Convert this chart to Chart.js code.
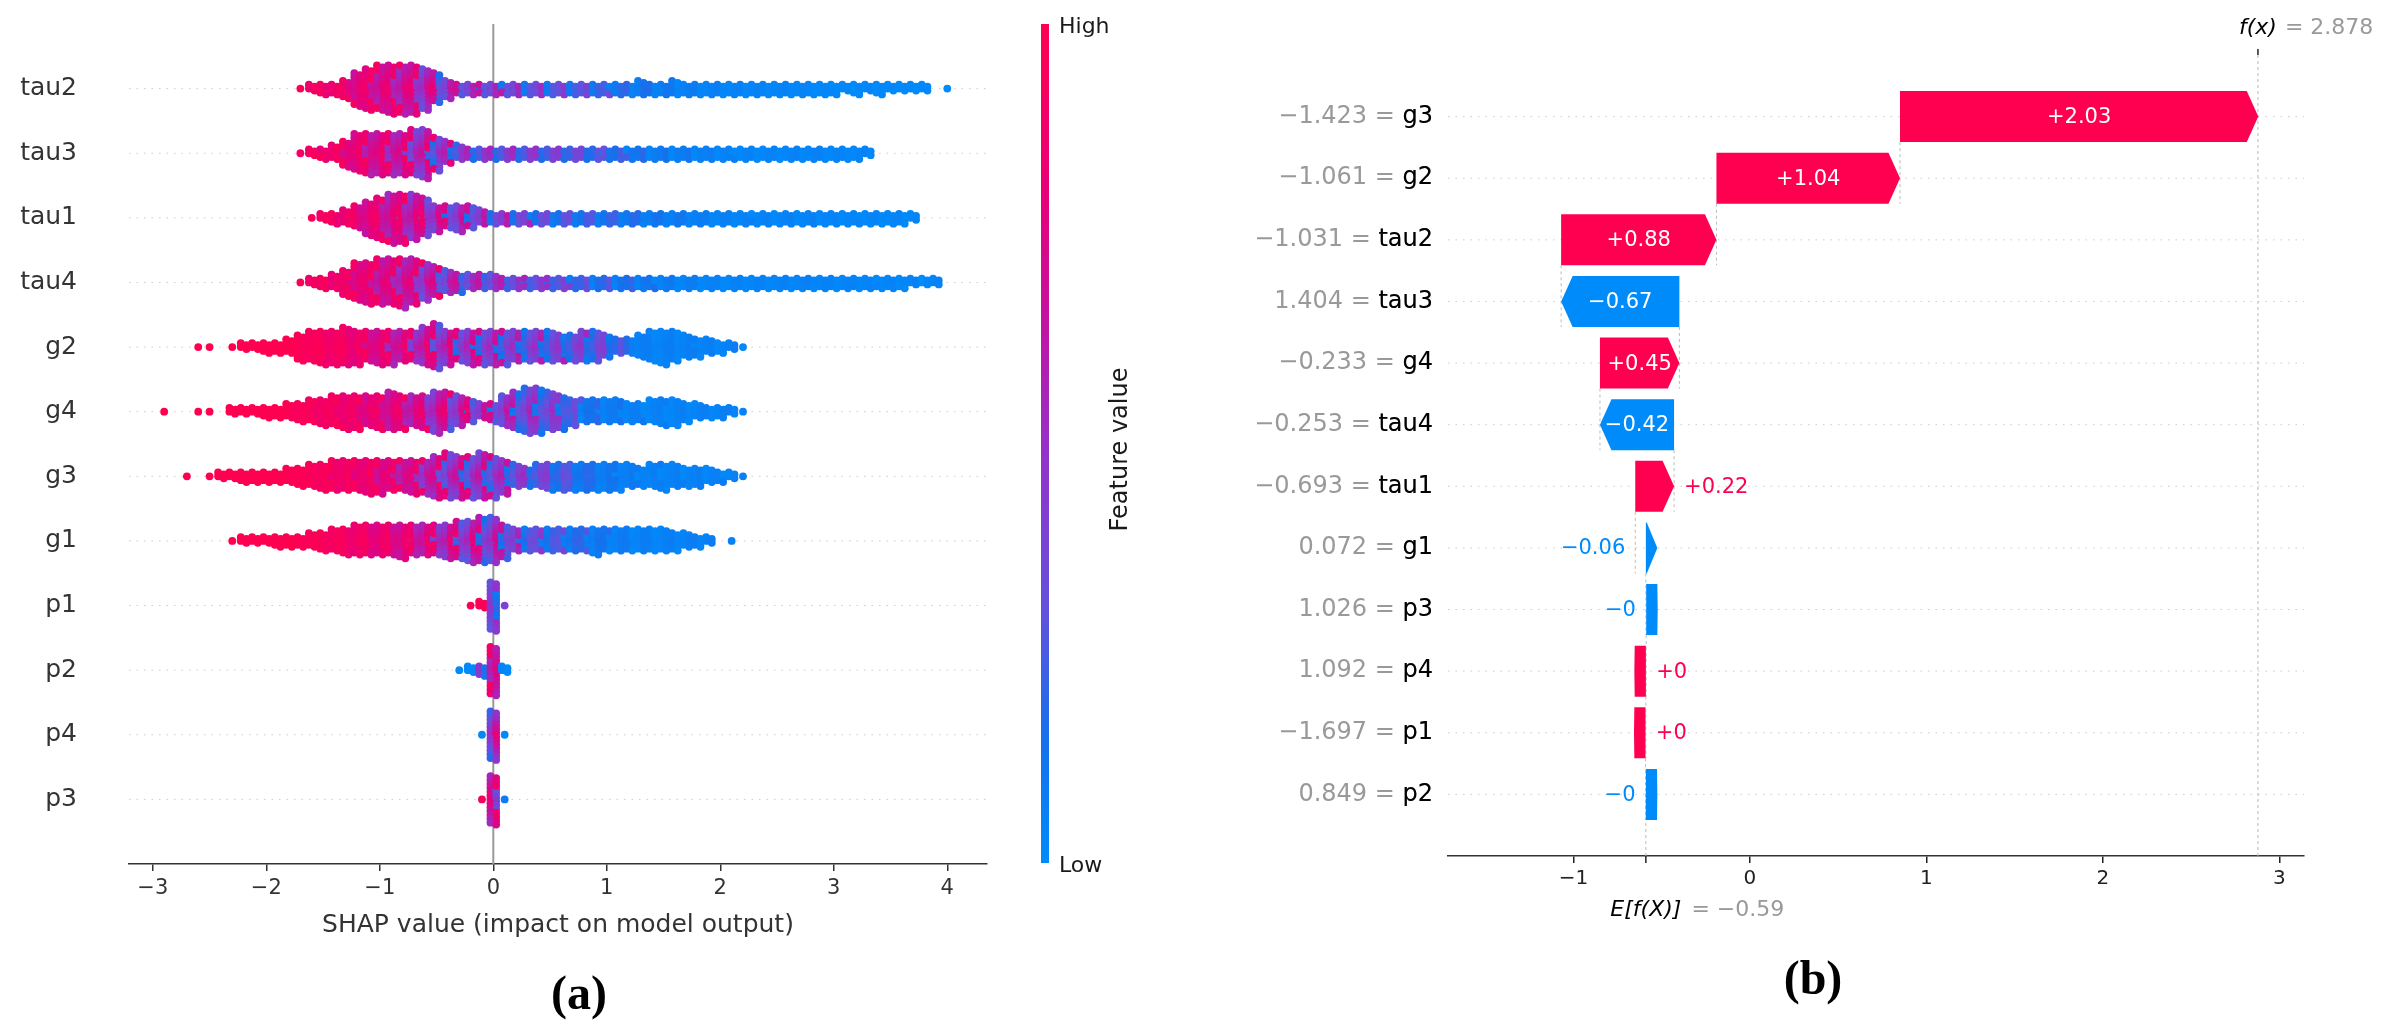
<!DOCTYPE html>
<html>
<head>
<meta charset="utf-8">
<script src="https://cdn.jsdelivr.net/npm/chart.js@4.4.1/dist/chart.umd.min.js"></script>
<style>
  html, body { margin: 0; padding: 0; background: #fff; }
  #page { position: relative; width: 2387px; height: 1036px; overflow: hidden; background: #fff; }
  canvas { position: absolute; top: 0; }
  #beeswarm { left: 0; }
  #waterfall { left: 1250px; }
</style>
</head>
<body>
<div id="page">
  <canvas id="beeswarm" width="1250" height="1036"></canvas>
  <canvas id="waterfall" width="1137" height="1036"></canvas>
</div>
<script>
const FONT = "'DejaVu Sans', sans-serif";
const SERIF = "'Liberation Serif', serif";
const RED = '#ff0051';
const BLUE = '#008bfb';

// ---------- (a) beeswarm: stack height per 0.1 SHAP bin and mean feature value (0 = low, 1 = high) ----------
const shapBins = [
  -3.0, -2.9, -2.8, -2.7, -2.6, -2.5, -2.4, -2.3, -2.2, -2.1,
  -2.0, -1.9, -1.8, -1.7, -1.6, -1.5, -1.4, -1.3, -1.2, -1.1,
  -1.0, -0.9, -0.8, -0.7, -0.6, -0.5, -0.4, -0.3, -0.2, -0.1,
  0.0, 0.1, 0.2, 0.3, 0.4, 0.5, 0.6, 0.7, 0.8, 0.9,
  1.0, 1.1, 1.2, 1.3, 1.4, 1.5, 1.6, 1.7, 1.8, 1.9,
  2.0, 2.1, 2.2, 2.3, 2.4, 2.5, 2.6, 2.7, 2.8, 2.9,
  3.0, 3.1, 3.2, 3.3, 3.4, 3.5, 3.6, 3.7, 3.8, 3.9,
  4.0
];
const beeswarmFeatures = ['tau2', 'tau3', 'tau1', 'tau4', 'g2', 'g4', 'g3', 'g1', 'p1', 'p2', 'p4', 'p3'];
const beeswarmTicks = [-3, -2, -1, 0, 1, 2, 3, 4];

const tau2Counts = [
  0,0,0,0,0,0,0,0,0,0,  0,0,0,1,2,3,3,5,9,11,  12,13,13,13,11,8,5,3,3,3,
  3,3,3,3,3,3,3,3,3,3,  3,3,3,4,3,3,4,3,3,3,  3,3,3,3,3,3,3,3,3,3,
  3,2,3,2,3,2,2,2,2,0,  1];
const tau2Colors = [
  0,0,0,0,0,0,0,0,0,0,  0,0,0,0.95,0.9,0.9,0.88,0.85,0.8,0.78,
  0.75,0.72,0.7,0.65,0.6,0.52,0.46,0.42,0.4,0.39,
  0.38,0.37,0.36,0.34,0.32,0.3,0.28,0.26,0.24,0.22,
  0.2,0.18,0.16,0.14,0.12,0.1,0.08,0.07,0.06,0.05,
  0.05,0.04,0.04,0.04,0.03,0.03,0.03,0.03,0.02,0.02,
  0.02,0.02,0.02,0.02,0.02,0.02,0.02,0.02,0.02,0,  0.02];

const tau3Counts = [
  0,0,0,0,0,0,0,0,0,0,  0,0,0,1,2,3,4,7,10,11,  11,11,11,12,13,9,6,4,3,3,
  3,3,3,3,3,3,3,3,3,3,  3,3,3,3,3,3,3,3,3,3,  3,3,3,3,3,3,3,3,3,3,
  3,3,3,2,0,0,0,0,0,0,  0];
const tau3Colors = [
  0,0,0,0,0,0,0,0,0,0,  0,0,0,0.95,0.9,0.88,0.85,0.82,0.78,0.75,
  0.72,0.7,0.66,0.6,0.55,0.5,0.46,0.43,0.41,0.4,
  0.38,0.37,0.36,0.34,0.32,0.3,0.28,0.26,0.23,0.2,
  0.18,0.16,0.14,0.12,0.1,0.09,0.08,0.07,0.06,0.05,
  0.04,0.04,0.04,0.04,0.04,0.04,0.04,0.04,0.04,0.04,
  0.03,0.03,0.03,0.03,0,0,0,0,0,0,  0];

const tau1Counts = [
  0,0,0,0,0,0,0,0,0,0,  0,0,0,0,1,2,3,4,6,9,  11,13,13,12,10,7,6,7,6,4,
  3,3,3,3,3,3,3,3,3,3,  3,3,3,3,3,3,3,3,3,3,  3,3,3,3,3,3,3,3,3,3,
  3,3,3,3,3,3,3,2,0,0,  0];
const tau1Colors = [
  0,0,0,0,0,0,0,0,0,0,  0,0,0,0,0.95,0.9,0.88,0.85,0.82,0.78,
  0.75,0.72,0.7,0.66,0.6,0.52,0.46,0.43,0.41,0.4,
  0.38,0.37,0.35,0.33,0.31,0.29,0.27,0.25,0.22,0.2,
  0.18,0.16,0.14,0.12,0.1,0.09,0.08,0.07,0.06,0.05,
  0.04,0.04,0.04,0.04,0.04,0.04,0.04,0.04,0.04,0.04,
  0.03,0.03,0.03,0.03,0.03,0.03,0.03,0.03,0,0,  0];

const tau4Counts = [
  0,0,0,0,0,0,0,0,0,0,  0,0,0,1,2,3,4,7,10,11,  12,12,13,12,10,8,6,5,4,4,
  4,3,3,3,3,3,3,3,3,3,  3,3,3,3,3,3,3,3,3,3,  3,3,3,3,3,3,3,3,3,3,
  3,3,3,3,3,3,3,2,2,2,  0];
const tau4Colors = [
  0,0,0,0,0,0,0,0,0,0,  0,0,0,0.95,0.92,0.9,0.88,0.85,0.82,0.78,
  0.75,0.72,0.7,0.66,0.6,0.55,0.5,0.46,0.43,0.41,
  0.39,0.37,0.35,0.33,0.31,0.29,0.27,0.24,0.21,0.19,
  0.17,0.15,0.13,0.11,0.1,0.09,0.08,0.07,0.06,0.05,
  0.04,0.04,0.04,0.04,0.04,0.04,0.04,0.04,0.04,0.04,
  0.03,0.03,0.03,0.03,0.03,0.03,0.03,0.03,0.03,0.03,  0];

const g2Counts = [
  0,0,0,0,1,1,0,1,2,2,  3,3,4,7,8,9,9,10,9,8,  9,9,8,8,10,12,9,8,9,9,
  9,9,8,8,8,8,7,7,8,8,  6,4,4,6,8,9,8,6,5,4,  3,2,1,0,0,0,0,0,0,0,
  0,0,0,0,0,0,0,0,0,0,  0];
const g2Colors = [
  0,0,0,0,1,1,0,1,1,1,  1,1,1,0.97,0.95,0.93,0.9,0.88,0.84,0.8,
  0.76,0.72,0.68,0.64,0.6,0.56,0.52,0.48,0.46,0.44,
  0.42,0.4,0.38,0.37,0.36,0.35,0.34,0.33,0.32,0.3,
  0.28,0.22,0.12,0.06,0.05,0.05,0.05,0.05,0.05,0.05,
  0.05,0.05,0.05,0,0,0,0,0,0,0,  0,0,0,0,0,0,0,0,0,0,  0];

const g4Counts = [
  0,1,0,0,1,1,0,2,2,2,  3,3,4,5,6,7,8,9,9,8,  9,10,9,8,9,11,10,8,6,4,
  5,8,10,12,12,10,9,7,6,6,  6,6,5,5,6,7,7,5,4,3,  3,2,1,0,0,0,0,0,0,0,
  0,0,0,0,0,0,0,0,0,0,  0];
const g4Colors = [
  0,1,0,0,1,1,0,1,1,1,  1,1,0.98,0.96,0.94,0.92,0.9,0.88,0.85,0.82,
  0.8,0.77,0.74,0.7,0.66,0.62,0.57,0.53,0.5,0.47,
  0.44,0.41,0.38,0.36,0.34,0.32,0.28,0.22,0.15,0.12,
  0.1,0.08,0.07,0.06,0.05,0.05,0.05,0.05,0.05,0.05,
  0.05,0.05,0.05,0,0,0,0,0,0,0,  0,0,0,0,0,0,0,0,0,0,  0];

const g3Counts = [
  0,0,0,1,0,1,2,2,3,3,  3,3,4,5,6,7,8,8,8,9,  9,8,8,9,9,11,12,11,11,12,
  11,9,6,5,6,7,7,7,7,7,  7,7,6,5,6,7,6,5,5,4,  3,2,1,0,0,0,0,0,0,0,
  0,0,0,0,0,0,0,0,0,0,  0];
const g3Colors = [
  0,0,0,1,0,1,1,1,1,1,  1,1,0.98,0.97,0.95,0.93,0.9,0.88,0.86,0.83,
  0.8,0.77,0.74,0.7,0.65,0.6,0.55,0.5,0.47,0.45,
  0.43,0.4,0.37,0.34,0.31,0.28,0.24,0.18,0.14,0.11,
  0.09,0.08,0.07,0.06,0.05,0.05,0.05,0.05,0.05,0.05,
  0.05,0.05,0.05,0,0,0,0,0,0,0,  0,0,0,0,0,0,0,0,0,0,  0];

const g1Counts = [
  0,0,0,0,0,0,0,1,2,2,  2,3,3,3,4,5,6,7,8,8,  8,8,9,8,8,8,9,10,11,12,
  12,9,6,6,6,6,6,6,6,7,  6,6,6,6,6,6,5,4,3,2,  0,1,0,0,0,0,0,0,0,0,
  0,0,0,0,0,0,0,0,0,0,  0];
const g1Colors = [
  0,0,0,0,0,0,0,1,1,1,  1,1,1,0.98,0.97,0.95,0.93,0.9,0.88,0.85,
  0.82,0.8,0.76,0.72,0.68,0.63,0.58,0.54,0.5,0.47,
  0.44,0.4,0.36,0.32,0.28,0.25,0.22,0.18,0.15,0.12,
  0.1,0.08,0.07,0.06,0.05,0.05,0.05,0.05,0.05,0.05,
  0,0.05,0,0,0,0,0,0,0,0,  0,0,0,0,0,0,0,0,0,0,  0];

const p1Counts = [
  0,0,0,0,0,0,0,0,0,0,  0,0,0,0,0,0,0,0,0,0,  0,0,0,0,0,0,0,0,1,2,
  13,1,0,0,0,0,0,0,0,0,  0,0,0,0,0,0,0,0,0,0,  0,0,0,0,0,0,0,0,0,0,
  0,0,0,0,0,0,0,0,0,0,  0];
const p1Colors = [
  0,0,0,0,0,0,0,0,0,0,  0,0,0,0,0,0,0,0,0,0,  0,0,0,0,0,0,0,0,1,0.97,
  0.3,0.4,0,0,0,0,0,0,0,0,  0,0,0,0,0,0,0,0,0,0,  0,0,0,0,0,0,0,0,0,0,
  0,0,0,0,0,0,0,0,0,0,  0];

const p2Counts = [
  0,0,0,0,0,0,0,0,0,0,  0,0,0,0,0,0,0,0,0,0,  0,0,0,0,0,0,0,1,2,3,
  13,2,0,0,0,0,0,0,0,0,  0,0,0,0,0,0,0,0,0,0,  0,0,0,0,0,0,0,0,0,0,
  0,0,0,0,0,0,0,0,0,0,  0];
const p2Colors = [
  0,0,0,0,0,0,0,0,0,0,  0,0,0,0,0,0,0,0,0,0,  0,0,0,0,0,0,0,0,0.02,0.35,
  0.72,0.03,0,0,0,0,0,0,0,0,  0,0,0,0,0,0,0,0,0,0,  0,0,0,0,0,0,0,0,0,0,
  0,0,0,0,0,0,0,0,0,0,  0];

const p4Counts = [
  0,0,0,0,0,0,0,0,0,0,  0,0,0,0,0,0,0,0,0,0,  0,0,0,0,0,0,0,0,0,1,
  13,1,0,0,0,0,0,0,0,0,  0,0,0,0,0,0,0,0,0,0,  0,0,0,0,0,0,0,0,0,0,
  0,0,0,0,0,0,0,0,0,0,  0];
const p4Colors = [
  0,0,0,0,0,0,0,0,0,0,  0,0,0,0,0,0,0,0,0,0,  0,0,0,0,0,0,0,0,0,0.05,
  0.5,0.05,0,0,0,0,0,0,0,0,  0,0,0,0,0,0,0,0,0,0,  0,0,0,0,0,0,0,0,0,0,
  0,0,0,0,0,0,0,0,0,0,  0];

const p3Counts = [
  0,0,0,0,0,0,0,0,0,0,  0,0,0,0,0,0,0,0,0,0,  0,0,0,0,0,0,0,0,0,1,
  13,1,0,0,0,0,0,0,0,0,  0,0,0,0,0,0,0,0,0,0,  0,0,0,0,0,0,0,0,0,0,
  0,0,0,0,0,0,0,0,0,0,  0];
const p3Colors = [
  0,0,0,0,0,0,0,0,0,0,  0,0,0,0,0,0,0,0,0,0,  0,0,0,0,0,0,0,0,0,0.95,
  0.6,0.1,0,0,0,0,0,0,0,0,  0,0,0,0,0,0,0,0,0,0,  0,0,0,0,0,0,0,0,0,0,
  0,0,0,0,0,0,0,0,0,0,  0];

const beeswarmCounts = [tau2Counts, tau3Counts, tau1Counts, tau4Counts, g2Counts, g4Counts,
  g3Counts, g1Counts, p1Counts, p2Counts, p4Counts, p3Counts];
const beeswarmColors = [tau2Colors, tau3Colors, tau1Colors, tau4Colors, g2Colors, g4Colors,
  g3Colors, g1Colors, p1Colors, p2Colors, p4Colors, p3Colors];

// ---------- (b) waterfall ----------
const waterfallFeatures = ['g3', 'g2', 'tau2', 'tau3', 'g4', 'tau4', 'tau1', 'g1', 'p3', 'p4', 'p1', 'p2'];
const waterfallFeatureValues = [-1.423, -1.061, -1.031, 1.404, -0.233, -0.253, -0.693, 0.072, 1.026, 1.092, -1.697, 0.849];
const waterfallShap = [2.03, 1.04, 0.88, -0.67, 0.45, -0.42, 0.22, -0.06, -0.002, 0.002, 0.002, -0.002];
const baseValue = -0.59;
const fxValue = 2.878;
const waterfallTicks = [-1, 0, 1, 2, 3];

// ---------- helpers ----------
const cmapStops = [
  [0.0, [0, 139, 251]], [0.15, [22, 112, 236]], [0.3, [98, 82, 222]], [0.5, [150, 48, 200]],
  [0.65, [196, 18, 160]], [0.8, [232, 0, 120]], [1.0, [255, 0, 81]]
];
function cmap(t) {
  t = Math.max(0, Math.min(1, t));
  for (let i = 1; i < cmapStops.length; i++) {
    const [t1, c1] = cmapStops[i];
    const [t0, c0] = cmapStops[i - 1];
    if (t <= t1) {
      const f = (t - t0) / (t1 - t0);
      const c = c0.map((v, k) => Math.round(v + (c1[k] - v) * f));
      return `rgb(${c[0]},${c[1]},${c[2]})`;
    }
  }
  return 'rgb(255,0,81)';
}
const minus = v => (v < 0 ? '\u2212' : '') + Math.abs(v);
const fmtShap = v => (v < 0 ? '\u2212' : '+') + Math.abs(v).toFixed(2).replace(/0+$/, '').replace(/\.$/, '');
const fmtFeature = v => (v < 0 ? '\u2212' : '') + Math.abs(v).toFixed(3);
function seg(ctx, x1, y1, x2, y2) {
  ctx.beginPath(); ctx.moveTo(x1, y1); ctx.lineTo(x2, y2); ctx.stroke();
}

Chart.defaults.font.family = FONT;
Chart.defaults.animation = false;

// swarm layout: each bin is stacked in alternating layers around its row,
// in two dot columns, the second one shifted half a layer (hex packing)
const LAYER = 0.06, COLUMN = 0.025;
const swarmPoints = [];
beeswarmFeatures.forEach((name, row) => {
  const counts = beeswarmCounts[row], colors = beeswarmColors[row];
  shapBins.forEach((bin, i) => {
    const n = counts[i];
    const cols = n === 1 ? [0] : [-COLUMN, COLUMN];
    for (let j = 0; j < n; j++) {
      const k = Math.ceil(j / 2);
      const side = j % 2 ? -1 : 1;
      const c = colors[i];
      const amp = 0.75 * Math.min(c, 1 - c);
      cols.forEach((dx, m) => {
        const shift = m === 1 && n > 1 ? LAYER / 2 : 0;
        const h = ((i * 7.31 + j * 3.17 + m * 5.43 + row * 2.11) * 0.6180339887) % 1;
        swarmPoints.push({ x: bin + dx, y: row + side * k * LAYER + shift, c: c + amp * (2 * h - 1) });
      });
    }
  });
});

const beeswarmDecor = {
  id: 'beeswarmDecor',
  beforeDatasetsDraw(chart) {
    const { ctx, chartArea: a, scales: { x, y } } = chart;
    ctx.save();
    ctx.strokeStyle = '#cccccc'; ctx.lineWidth = 1; ctx.setLineDash([1.5, 6]);
    beeswarmFeatures.forEach((f, i) => { const py = y.getPixelForValue(i); seg(ctx, a.left, py, a.right, py); });
    ctx.setLineDash([]);
    ctx.strokeStyle = '#999999'; ctx.lineWidth = 2;
    const zx = x.getPixelForValue(0);
    seg(ctx, zx, a.top, zx, a.bottom);
    ctx.restore();
  },
  afterDraw(chart) {
    const { ctx, chartArea: a } = chart;
    ctx.save();
    const left = a.right + 54, w = 8, top = a.top, bottom = a.bottom - 1;
    const grad = ctx.createLinearGradient(0, bottom, 0, top);
    cmapStops.forEach(([t]) => grad.addColorStop(t, cmap(t)));
    ctx.fillStyle = grad;
    ctx.fillRect(left, top, w, bottom - top);
    ctx.fillStyle = '#1a1a1a';
    ctx.font = `22px ${FONT}`;
    ctx.textAlign = 'left'; ctx.textBaseline = 'middle';
    ctx.fillText('High', left + 18, top + 3);
    ctx.fillText('Low', left + 18, bottom + 3);
    ctx.save();
    ctx.translate(left + 80, (top + bottom) / 2 + 6);
    ctx.rotate(-Math.PI / 2);
    ctx.textAlign = 'center';
    ctx.font = `24px ${FONT}`;
    ctx.fillText('Feature value', 0, 0);
    ctx.restore();
    ctx.fillStyle = '#000';
    ctx.font = `bold 48px ${SERIF}`;
    ctx.textAlign = 'center';
    ctx.fillText('(a)', 579, 997);
    ctx.restore();
  }
};

new Chart(document.getElementById('beeswarm'), {
  type: 'scatter',
  data: {
    datasets: [{
      data: swarmPoints,
      pointRadius: 3.9,
      pointHoverRadius: 3.9,
      pointBorderWidth: 0,
      pointBackgroundColor: swarmPoints.map(p => cmap(p.c))
    }]
  },
  options: {
    responsive: false,
    events: [],
    layout: { padding: { left: 0, right: 263, top: 24, bottom: 91 } },
    plugins: { legend: { display: false }, tooltip: { enabled: false } },
    scales: {
      x: {
        type: 'linear', min: -3.21, max: 4.35,
        afterBuildTicks: s => { s.ticks = beeswarmTicks.map(v => ({ value: v })); },
        afterFit: s => { s.height = 81; s.paddingLeft = 0; s.paddingRight = 0; },
        ticks: { font: { size: 21 }, color: '#333', padding: 5, callback: v => minus(v) },
        grid: { drawOnChartArea: false, drawTicks: true, tickLength: 7, color: '#333', lineWidth: 1.5 },
        border: { display: true, color: '#333', width: 1.5 },
        title: {
          display: true, text: 'SHAP value (impact on model output)',
          font: { size: 25 }, color: '#333', padding: { top: 0, bottom: 5 }
        }
      },
      y: {
        type: 'linear', min: -1, max: 12, reverse: true,
        afterBuildTicks: s => { s.ticks = beeswarmFeatures.map((f, i) => ({ value: i })); },
        afterFit: s => { s.width = 129; s.paddingTop = 0; s.paddingBottom = 0; },
        ticks: { callback: v => beeswarmFeatures[v], font: { size: 25 }, color: '#333', padding: 52 },
        grid: { display: false, drawTicks: false },
        border: { display: false }
      }
    }
  },
  plugins: [beeswarmDecor]
});

// ---------- waterfall chart ----------
const barRanges = [];
let running = baseValue;
for (let i = waterfallShap.length - 1; i >= 0; i--) {
  const start = running;
  running += waterfallShap[i];
  barRanges[i] = [start, running];
}
const HEAD = 11.5;

const waterfallDecor = {
  id: 'waterfallDecor',
  beforeDatasetsDraw(chart) {
    const { ctx, chartArea: a, scales: { x, y } } = chart;
    const meta = chart.getDatasetMeta(0);
    ctx.save();
    ctx.strokeStyle = '#cccccc'; ctx.lineWidth = 1; ctx.setLineDash([1.5, 6]);
    waterfallFeatures.forEach((f, i) => { const py = y.getPixelForValue(i + 1); seg(ctx, a.left, py, a.right, py); });
    ctx.strokeStyle = '#bbbbbb'; ctx.setLineDash([3, 3]);
    for (let i = 0; i < waterfallFeatures.length - 1; i++) {
      const px = x.getPixelForValue(barRanges[i][0]);
      const h = meta.data[i + 1].height / 2;
      seg(ctx, px, y.getPixelForValue(i + 1) + h, px, y.getPixelForValue(i + 2) + h);
    }
    const fxPx = x.getPixelForValue(fxValue), basePx = x.getPixelForValue(baseValue);
    seg(ctx, fxPx, a.top, fxPx, a.bottom);
    seg(ctx, basePx, a.bottom, basePx, a.bottom - (a.bottom - a.top) / waterfallFeatures.length);
    ctx.restore();
  },
  afterDatasetsDraw(chart) {
    const { ctx, scales: { x } } = chart;
    const meta = chart.getDatasetMeta(0);
    ctx.save();
    ctx.font = `21px ${FONT}`;
    ctx.textBaseline = 'middle';
    waterfallShap.forEach((v, i) => {
      const bar = meta.data[i + 1];
      const s = x.getPixelForValue(barRanges[i][0]);
      const e = x.getPixelForValue(barRanges[i][1]);
      const top = bar.y - bar.height / 2, bot = bar.y + bar.height / 2, cy = bar.y;
      const dir = v >= 0 ? 1 : -1;
      const len = Math.abs(e - s);
      const color = v >= 0 ? RED : BLUE;
      ctx.fillStyle = color;
      ctx.beginPath();
      if (len >= HEAD) {
        const neck = e - dir * HEAD;
        ctx.moveTo(s, top); ctx.lineTo(neck, top); ctx.lineTo(e, cy); ctx.lineTo(neck, bot); ctx.lineTo(s, bot);
      } else {
        const tip = s - dir * HEAD, neck = s - dir * (HEAD - len);
        ctx.moveTo(s, top); ctx.lineTo(neck, top); ctx.lineTo(tip, cy); ctx.lineTo(neck, bot); ctx.lineTo(s, bot);
      }
      ctx.closePath();
      ctx.fill();
      const txt = fmtShap(v);
      const tw = ctx.measureText(txt).width;
      if (tw + 4 < len) {
        ctx.fillStyle = '#fff'; ctx.textAlign = 'center';
        ctx.fillText(txt, (s + e) / 2, cy + 1);
      } else if (v >= 0) {
        ctx.fillStyle = color; ctx.textAlign = 'left';
        ctx.fillText(txt, e + 10, cy + 1);
      } else {
        ctx.fillStyle = color; ctx.textAlign = 'right';
        ctx.fillText(txt, e - 10, cy + 1);
      }
    });
    ctx.restore();
  },
  afterDraw(chart) {
    const { ctx, chartArea: a, scales: { x, y } } = chart;
    ctx.save();
    ctx.textBaseline = 'middle';
    ctx.textAlign = 'right';
    ctx.font = `24px ${FONT}`;
    waterfallFeatures.forEach((f, i) => {
      const py = y.getPixelForValue(i + 1);
      ctx.fillStyle = '#999999';
      ctx.fillText(fmtFeature(waterfallFeatureValues[i]) + ' = ' + f, a.left - 15, py);
      ctx.fillStyle = '#000';
      ctx.fillText(f, a.left - 15, py);
    });
    const fxPx = x.getPixelForValue(fxValue), basePx = x.getPixelForValue(baseValue);
    ctx.strokeStyle = '#222'; ctx.lineWidth = 1.5;
    seg(ctx, fxPx, a.top, fxPx, a.top - 6);
    seg(ctx, basePx, a.bottom, basePx, a.bottom + 7);
    // f(x) label
    ctx.font = `italic 22px ${FONT}`;
    const fw = ctx.measureText('f(x)').width;
    ctx.textAlign = 'left';
    ctx.fillStyle = '#000';
    ctx.fillText('f(x)', fxPx - fw / 2, 28);
    ctx.font = `22px ${FONT}`;
    ctx.fillStyle = '#999999';
    ctx.fillText('= ' + fxValue.toFixed(3), fxPx + fw / 2 + 8, 28);
    // E[f(X)] label
    ctx.font = `italic 22px ${FONT}`;
    const ew = ctx.measureText('E[f(X)]').width;
    ctx.fillStyle = '#000';
    ctx.fillText('E[f(X)]', basePx - ew / 2, 910);
    ctx.font = `22px ${FONT}`;
    ctx.fillStyle = '#999999';
    ctx.fillText('= ' + (baseValue < 0 ? '\u2212' : '') + Math.abs(baseValue).toFixed(2), basePx + ew / 2 + 10, 910);
    ctx.fillStyle = '#000';
    ctx.font = `bold 48px ${SERIF}`;
    ctx.textAlign = 'center';
    ctx.fillText('(b)', 563, 982);
    ctx.restore();
  }
};

new Chart(document.getElementById('waterfall'), {
  type: 'bar',
  data: {
    labels: ['', ...waterfallFeatures, ''],
    datasets: [{
      data: [null, ...barRanges, null],
      backgroundColor: 'rgba(0,0,0,0)',
      borderWidth: 0,
      barThickness: 51
    }]
  },
  options: {
    indexAxis: 'y',
    responsive: false,
    events: [],
    layout: { padding: { left: 198, right: 83, top: 55, bottom: 140 } },
    plugins: { legend: { display: false }, tooltip: { enabled: false } },
    scales: {
      x: {
        type: 'linear', min: -1.711, max: 3.139,
        afterBuildTicks: s => { s.ticks = waterfallTicks.map(v => ({ value: v })); },
        afterFit: s => { s.height = 40; s.paddingLeft = 0; s.paddingRight = 0; },
        ticks: { font: { size: 20 }, color: '#222', padding: 4, callback: v => minus(v) },
        grid: { drawOnChartArea: false, drawTicks: true, tickLength: 7, color: '#222', lineWidth: 1.5 },
        border: { display: true, color: '#333', width: 1.5 }
      },
      y: { type: 'category', offset: false, display: false }
    }
  },
  plugins: [waterfallDecor]
});
</script>
</body>
</html>
